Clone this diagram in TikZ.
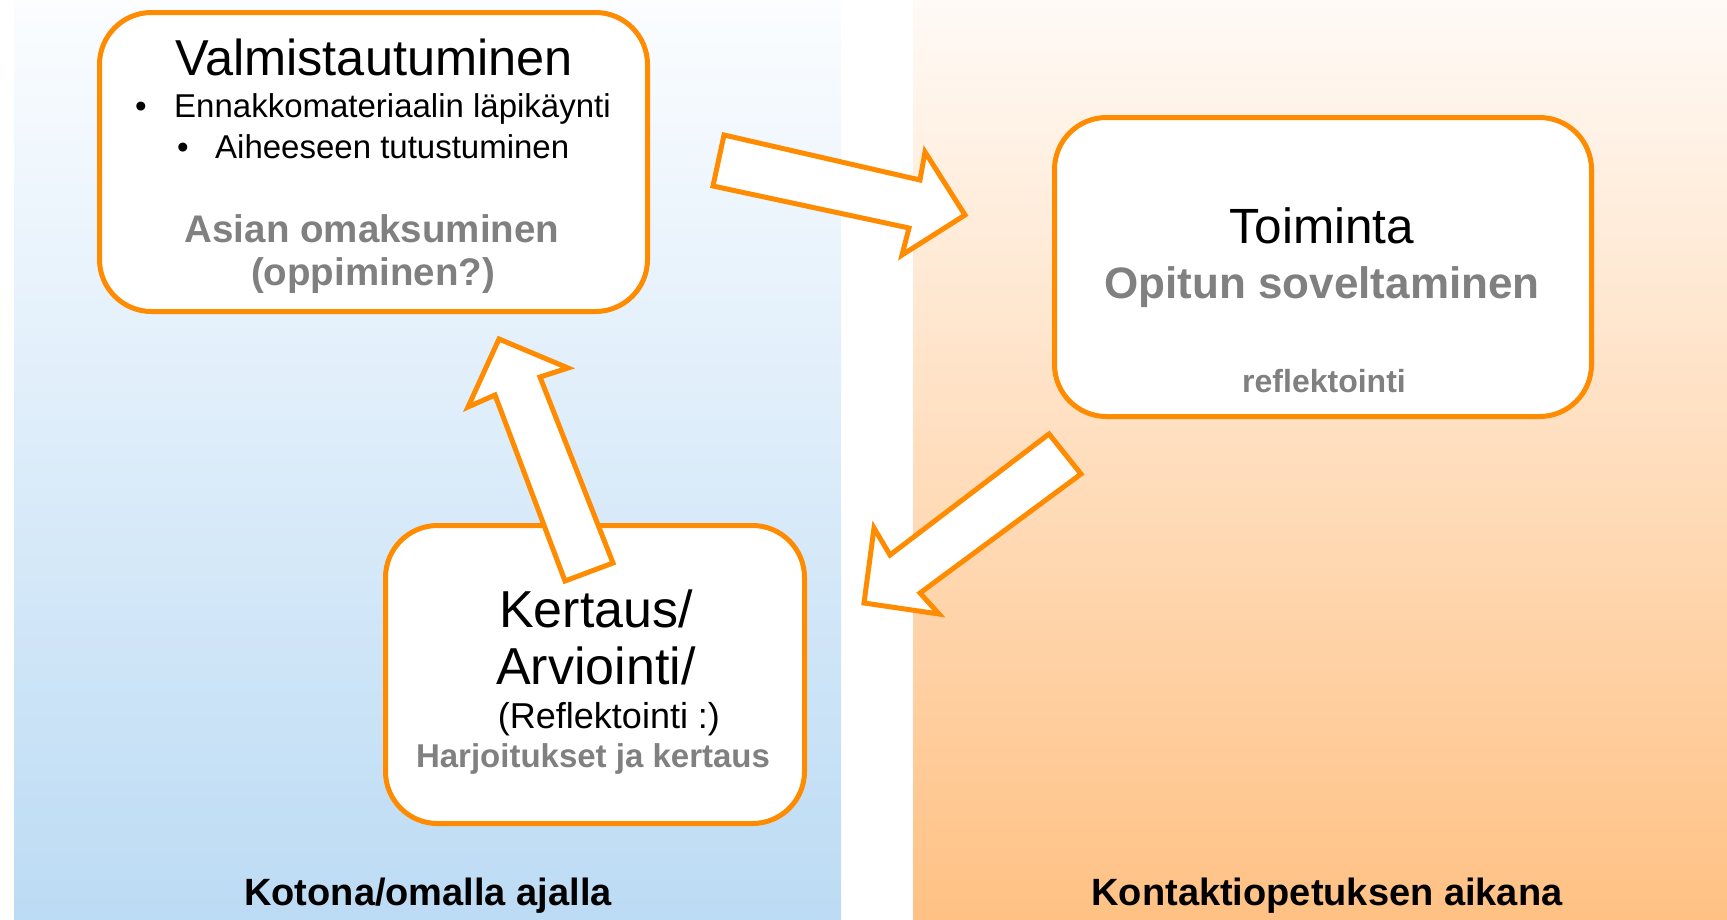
\documentclass[tikz,border=0pt]{standalone}
\usepackage{fontspec}
\setmainfont{Liberation Sans}
\definecolor{orangeline}{RGB}{255,140,0}
\definecolor{txtgray}{RGB}{128,128,128}
\definecolor{bluetop}{RGB}{251,253,255}
\definecolor{bluebot}{RGB}{188,219,244}
\definecolor{peachtop}{RGB}{255,250,246}
\definecolor{peachbot}{RGB}{255,193,132}
\newcommand{\fs}[1]{\fontsize{#1}{#1}\selectfont}
\tikzset{
  box/.style={draw=orangeline, fill=white, line width=5pt, rounded corners=52pt, inner sep=0pt},
  blockarrow/.style={draw=orangeline, fill=white, line width=5pt, line join=miter},
  txt/.style={anchor=base, inner sep=0pt},
  graytxt/.style={txt, text=txtgray, font=\bfseries},
}
\begin{document}
\begin{tikzpicture}[x=1pt,y=-1pt]
\useasboundingbox (0,0) rectangle (1727,919);
% backgrounds
\shade[top color=bluetop, bottom color=bluebot] (14,0) rectangle (841,919);
\shade[top color=peachtop, bottom color=peachbot] (913,0) rectangle (1727,919);
% boxes
\node[box, minimum width=548pt, minimum height=299pt] (b1) at (373.5,162) {};
\node[box, minimum width=537pt, minimum height=299pt] (b2) at (1323,267) {};
\node[box, minimum width=419pt, minimum height=298pt] (b3) at (595,674.5) {};
% block arrows
\coordinate (a1t) at (965,215);
\draw[blockarrow] (724,135) -- (920,180) -- (925,152) -- (a1t) -- (902,255) -- (909,228) -- (713,186) -- cycle;
\coordinate (a2t) at (864,603);
\draw[blockarrow] (1049,434) -- (1081,474) -- (920,593) -- (939,614) -- (a2t) -- (874,528) -- (890,555) -- cycle;
\coordinate (a3t) at (499,339);
\draw[blockarrow] (565,581) -- (613,563) -- (540,377) -- (568,368) -- (a3t) -- (468,407) -- (495,395) -- cycle;
% box 1 text
\node[txt, font=\fs{50.5}] (t1) at (374,75) {Valmistautuminen};
\node[txt, font=\fs{33}] (d1) at (141,117) {•};
\node[txt, anchor=base west, font=\fs{33}] (l1) at (174,117) {Ennakkomateriaalin läpikäynti};
\node[txt, font=\fs{33}] (d2) at (183,158) {•};
\node[txt, anchor=base west, font=\fs{33}] (l2) at (215,158) {Aiheeseen tutustuminen};
\node[graytxt, font=\bfseries\fs{38.5}] (g1) at (372,242) {Asian omaksuminen};
\node[graytxt, font=\bfseries\fs{38.5}] (g2) at (373,285) {(oppiminen?)};
% box 2 text
\node[txt, font=\fs{49.5}] (t2) at (1322,243) {Toiminta};
\node[graytxt, font=\bfseries\fs{44}] (g3) at (1322,298) {Opitun soveltaminen};
\node[graytxt, font=\bfseries\fs{32}] (g4) at (1324,392) {reflektointi};
% box 3 text
\node[txt, font=\fs{52}] (t3) at (596,627) {Kertaus/};
\node[txt, font=\fs{52}] (t4) at (596,684) {Arviointi/};
\node[txt, font=\fs{36}] (t5) at (609,728) {(Reflektointi :)};
\node[graytxt, font=\bfseries\fs{33}] (g5) at (593,767) {Harjoitukset ja kertaus};
% panel labels
\node[txt, font=\bfseries\fs{38}] (p1) at (428,905) {Kotona/omalla ajalla};
\node[txt, font=\bfseries\fs{38}] (p2) at (1327,905) {Kontaktiopetuksen aikana};
\end{tikzpicture}
\end{document}
